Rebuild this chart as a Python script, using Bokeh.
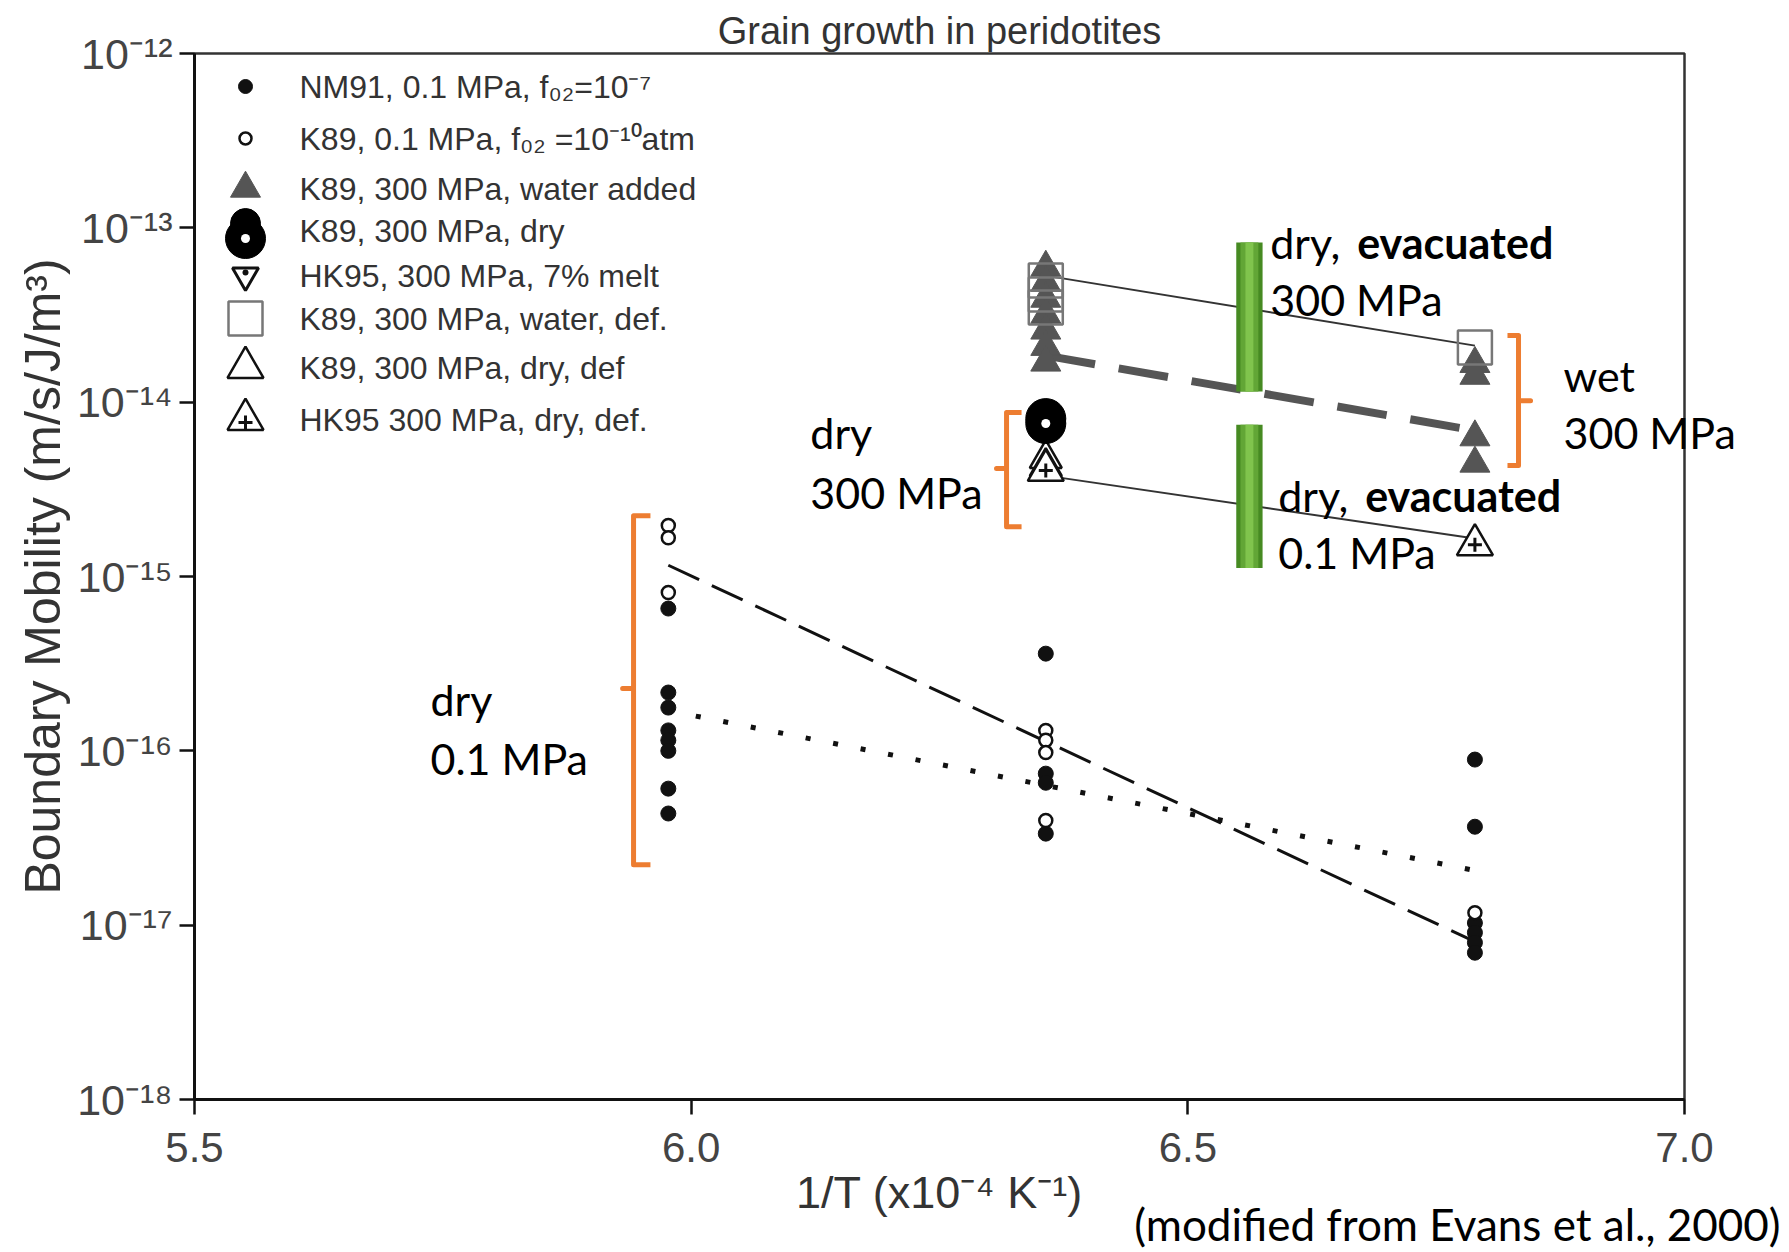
from bokeh.plotting import figure
from bokeh.models import (Range1d, LinearScale, FixedTicker, Label, PrintfTickFormatter,
                          LogAxis, Title)
from bokeh.embed import file_html
from bokeh.resources import INLINE
from bokeh.core.properties import value

# ---------------- data ----------------
# x: 1/T (x10^-4 K^-1); y: boundary mobility (m/s/J/m^3)
nm91_x = [5.977, 5.977, 5.977, 5.977, 5.977, 5.977, 5.977, 5.977,
          6.357, 6.357, 6.357, 6.357,
          6.789, 6.789, 6.789, 6.789, 6.789, 6.789]
nm91_y = [6.55e-16, 2.16e-16, 1.77e-16, 1.31e-16, 1.15e-16, 1.00e-16, 6.07e-17, 4.37e-17,
          3.61e-16, 7.40e-17, 6.56e-17, 3.35e-17,
          8.91e-17, 3.67e-17, 1.03e-17, 9.06e-18, 7.94e-18, 6.95e-18]

k89_01_x = [5.977, 5.977, 5.977, 6.357, 6.357, 6.357, 6.357, 6.789]
k89_01_y = [1.96e-15, 1.67e-15, 8.09e-16, 1.31e-16, 1.15e-16, 9.77e-17, 3.98e-17, 1.18e-17]

k89_wet_x = [6.357, 6.357, 6.357, 6.357, 6.357, 6.357, 6.357, 6.789, 6.789, 6.789, 6.789]
k89_wet_y = [5.92e-14, 4.85e-14, 3.93e-14, 3.18e-14, 2.58e-14, 2.08e-14, 1.69e-14,
             1.66e-14, 1.42e-14, 6.30e-15, 4.45e-15]

k89_dry_x = [6.357, 6.357]
k89_dry_y = [8.05e-15, 7.54e-15]

hk95_melt_x = []
hk95_melt_y = []

k89_wdef_x = [6.357, 6.357, 6.357, 6.789]
k89_wdef_y = [4.99e-14, 4.14e-14, 3.49e-14, 2.06e-14]

k89_ddef_x = [6.357, 6.357]
k89_ddef_y = [4.74e-15, 4.27e-15]

hk95_ddef_x = [6.357, 6.789]
hk95_ddef_y = [4.06e-15, 1.52e-15]

# trend lines
fit300_x = [6.357, 6.789]
fit_wdef_y = [5.32e-14, 2.11e-14]
fit_wet_y = [1.85e-14, 6.87e-15]
fit_dry300_y = [3.79e-15, 1.65e-15]
fit01_x = [5.977, 6.789]
fit01_dash_y = [1.16e-15, 8.04e-18]
fit01_dot_y = [1.70e-16, 2.06e-17]

# "dry, evacuated" green bars
evac_x = [6.562, 6.562]
evac_top = [8.24e-14, 7.43e-15]
evac_bottom = [1.15e-14, 1.12e-15]

# orange group brackets: spine x, serif x, tip x, top, middle, bottom
br_spine = [5.942, 6.3175, 6.8329]
br_serif = [5.959, 6.3326, 6.8218]
br_tip = [5.931, 6.3074, 6.8450]
br_top = [2.23e-15, 8.71e-15, 2.41e-14]
br_mid = [2.28e-16, 4.16e-15, 1.02e-14]
br_bot = [2.22e-17, 1.93e-15, 4.33e-15]

x_ticks = [5.5, 6.0, 6.5, 7.0]
y_ticks = [1e-18, 1e-17, 1e-16, 1e-15, 1e-14, 1e-13, 1e-12]
y_tick_labels = ["10\u207b\u00b9\u2078", "10\u207b\u00b9\u2077", "10\u207b\u00b9\u2076",
                 "10\u207b\u00b9\u2075", "10\u207b\u00b9\u2074", "10\u207b\u00b9\u00b3",
                 "10\u207b\u00b9\u00b2"]

legend_labels = ["NM91, 0.1 MPa, f\u2080\u2082=10\u207b\u2077",
                 "K89,  0.1 MPa, f\u2080\u2082 =10\u207b\u00b9\u2070atm",
                 "K89, 300 MPa, water added",
                 "K89, 300 MPa, dry",
                 "HK95, 300 MPa, 7% melt",
                 "K89, 300 MPa, water, def.",
                 "K89, 300 MPa, dry, def",
                 "HK95 300 MPa, dry, def."]

# annotation texts (x, y of baseline start, text, style)
annotations = [
    (5.7376, 1.57e-16, "dry", "normal"),
    (5.7376, 7.21e-17, "0.1 MPa", "normal"),
    (6.120, 5.35e-15, "dry", "normal"),
    (6.120, 2.42e-15, "300 MPa", "normal"),
    (6.583, 6.58e-14, "dry,", "normal"),
    (6.6705, 6.58e-14, "evacuated", "bold"),
    (6.583, 3.10e-14, "300 MPa", "normal"),
    (6.591, 2.33e-15, "dry,", "normal"),
    (6.6785, 2.33e-15, "evacuated", "bold"),
    (6.591, 1.10e-15, "0.1 MPa", "normal"),
]
# "wet / 300 MPa" text rows (text centres), they run past the right frame edge
wet_text_y = [1.43e-14, 6.74e-15]
wet_text = ["wet", "300 MPa"]

# ---------------- layout ----------------
W, H = 1789, 1252
FL, FR, FT, FB = 194, 105, 53, 153
FW, FH = W - FL - FR, H - FT - FB

p = figure(width=W, height=H, output_backend="svg", toolbar_location=None,
           x_range=Range1d(5.5, 7.0), y_range=Range1d(1e-18, 1e-12), y_axis_type="log",
           min_border_left=FL, min_border_right=FR, min_border_top=FT, min_border_bottom=FB,
           x_axis_label="1/T (x10\u207b\u2074 K\u207b\u00b9)",
           y_axis_label="Boundary Mobility (m/s/J/m\u00b3)")
p.xgrid.visible = False
p.ygrid.visible = False
p.background_fill_color = "white"
p.border_fill_color = "white"
p.outline_line_color = "#333333"
p.outline_line_width = 2.5

p.xaxis.ticker = FixedTicker(ticks=x_ticks, minor_ticks=[])
p.xaxis.formatter = PrintfTickFormatter(format="%.1f")
p.yaxis.ticker = FixedTicker(ticks=y_ticks, minor_ticks=[])
p.yaxis.major_label_overrides = dict(zip(y_ticks, y_tick_labels))
for ax in (p.xaxis[0], p.yaxis[0]):
    ax.axis_line_color = "#111111"
    ax.axis_line_width = 3
    ax.major_tick_line_color = "#111111"
    ax.major_tick_line_width = 2.5
    ax.major_tick_in = 0
    ax.major_tick_out = 15
    ax.minor_tick_line_color = None
    ax.major_label_text_font = "Liberation Sans"
    ax.major_label_text_color = "#444444"
    ax.axis_label_text_font = "Liberation Sans"
    ax.axis_label_text_font_style = "normal"
    ax.axis_label_text_color = "#333333"
p.xaxis.axis_label_text_font_size = "45px"
p.yaxis.axis_label_text_font_size = "50px"
p.xaxis.major_label_text_font_size = "42px"
p.yaxis.major_label_text_font_size = "43px"
p.xaxis.major_label_standoff = 18
p.yaxis.major_label_standoff = 7
p.xaxis.axis_label_standoff = 2
p.yaxis.axis_label_standoff = 3

# ---------------- trend lines ----------------
p.line(fit300_x, fit_wdef_y, line_color="#333333", line_width=2)
p.line(fit300_x, fit_wet_y, line_color="#555555", line_width=8, line_dash="50 24")
p.line(fit300_x, fit_dry300_y, line_color="#333333", line_width=2)
p.line(fit01_x, fit01_dash_y, line_color="#111111", line_width=3, line_dash="34 14")
p.line(fit01_x, fit01_dot_y, line_color="#111111", line_width=5, line_dash="5 23")

# ---------------- data markers ----------------
p.scatter(nm91_x, nm91_y, marker="circle", size=15, fill_color="#111111", line_color="#111111")
p.scatter(k89_01_x, k89_01_y, marker="circle", size=13, fill_color="white",
          line_color="#111111", line_width=2.5)
p.scatter(k89_wet_x, k89_wet_y, marker="triangle", size=30, fill_color="#555555",
          line_color="#555555")
p.scatter(k89_wdef_x, k89_wdef_y, marker="square", size=34, fill_alpha=0,
          line_color="#777777", line_width=2.5)
p.scatter(k89_ddef_x, k89_ddef_y, marker="triangle", size=32, fill_color="white",
          line_color="#111111", line_width=2.5)
p.scatter(hk95_ddef_x, hk95_ddef_y, marker="triangle", size=36, fill_color="white",
          line_color="#111111", line_width=2.5)
p.scatter(hk95_ddef_x, hk95_ddef_y, marker="cross", size=14, line_color="#111111", line_width=3)
p.scatter(k89_dry_x, k89_dry_y, marker="circle", size=40, fill_color="#000000",
          line_color="#000000")
p.scatter(k89_dry_x[-1:], k89_dry_y[-1:], marker="circle", size=9, fill_color="white",
          line_color=None)
p.scatter(hk95_melt_x, hk95_melt_y, marker="inverted_triangle", size=26, fill_color="white",
          line_color="#111111", line_width=3)

# ---------------- green bars ----------------
p.vbar(x=evac_x, top=evac_top, bottom=evac_bottom, width=0.0265, fill_color="#468a22", line_color=None)
p.vbar(x=evac_x, top=evac_top, bottom=evac_bottom, width=0.018, fill_color="#62a636", line_color=None)
p.vbar(x=evac_x, top=evac_top, bottom=evac_bottom, width=0.008, fill_color="#80c44d", line_color=None)

# ---------------- orange brackets ----------------
br_xs = [[s, v, v, t, v, v, s] for v, s, t in zip(br_spine, br_serif, br_tip)]
br_ys = [[a, a, m, m, m, b, b] for a, m, b in zip(br_top, br_mid, br_bot)]
p.multi_line(br_xs, br_ys, line_color="#ED7D31", line_width=5, line_join="round")

# ---------------- legend (drawn in frame pixels) ----------------
p.extra_x_ranges = {"lx": Range1d(0, FW)}
p.extra_y_ranges = {"ly": Range1d(FH, 0)}
p.extra_x_scales = {"lx": LinearScale()}
p.extra_y_scales = {"ly": LinearScale()}
LX, LT = 51, 105
rows = [33, 85, 135, 177, 222, 265, 314, 366]
kw = dict(x_range_name="lx", y_range_name="ly")
p.scatter([LX], [rows[0]], marker="circle", size=14, fill_color="#111111", line_color="#111111", **kw)
p.scatter([LX], [rows[1]], marker="circle", size=12, fill_color="white", line_color="#111111",
          line_width=2.5, **kw)
p.scatter([LX], [rows[2]], marker="triangle", size=30, fill_color="#555555", line_color="#555555", **kw)
p.scatter([LX, LX], [rows[3] - 7, rows[3] + 8], marker="circle", size=[30, 40], fill_color="#000000",
          line_color="#000000", **kw)
p.scatter([LX], [rows[3] + 8], marker="circle", size=9, fill_color="white", line_color=None, **kw)
p.scatter([LX], [rows[4]], marker="inverted_triangle", size=26, fill_color="white",
          line_color="#111111", line_width=3, **kw)
p.scatter([LX], [rows[4] - 3], marker="circle", size=6, fill_color="#111111", line_color=None, **kw)
p.scatter([LX], [rows[5]], marker="square", size=34, fill_alpha=0, line_color="#777777",
          line_width=2.5, **kw)
p.scatter([LX], [rows[6]], marker="triangle", size=36, fill_color="white", line_color="#111111",
          line_width=2.5, **kw)
p.scatter([LX], [rows[7]], marker="triangle", size=36, fill_color="white", line_color="#111111",
          line_width=2.5, **kw)
p.scatter([LX], [rows[7] + 3], marker="cross", size=14, line_color="#111111", line_width=3, **kw)
p.text([LT] * len(rows), rows, text=legend_labels, text_font=value("Liberation Sans"),
       text_font_size=value("32px"), text_color="#333333", text_baseline="middle",
       text_align="left", **kw)

# ---------------- annotations ----------------
for ax_, ay_, t_, st_ in annotations:
    p.add_layout(Label(x=ax_, y=ay_, text=t_, text_font="Lato", text_font_size="43px",
                       text_font_style=st_, text_color="black", text_baseline="alphabetic",
                       text_align="left", y_offset=17))

# "wet / 300 MPa": text that crosses the right frame edge, drawn as right-side labels
wet_axis = LogAxis(ticker=FixedTicker(ticks=wet_text_y, minor_ticks=[]),
                   major_label_overrides=dict(zip(wet_text_y, wet_text)),
                   axis_line_color=None, major_tick_line_color=None, minor_tick_line_color=None,
                   major_tick_in=0, major_tick_out=0, major_label_standoff=-121,
                   major_label_text_font="Lato", major_label_text_font_size="43px",
                   major_label_text_color="black")
p.add_layout(wet_axis, "right")

title = Title(text="Grain growth in peridotites", align="center", standoff=4,
              text_font="Liberation Sans", text_font_size="38px", text_font_style="normal",
              text_color="#333333")
p.add_layout(title, "above")

credit_kw = dict(text="(modified from Evans et al., 2000)", align="right", offset=-96,
                 vertical_align="top", text_font="Lato", text_font_size="44px",
                 text_font_style="normal", text_color="black")
try:
    credit = Title(standoff=-46, **credit_kw)
except Exception:
    credit = Title(standoff=0, **credit_kw)
p.add_layout(credit, "below")

open("out.html", "w").write(file_html(p, INLINE))
